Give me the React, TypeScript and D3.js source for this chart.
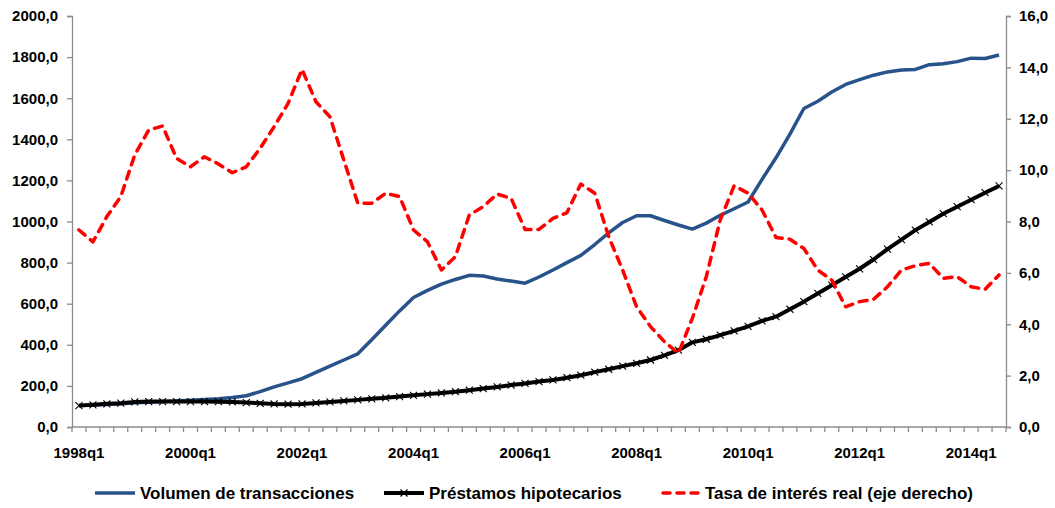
import React, { useRef, useEffect } from 'react';
import * as d3 from 'd3';

// quarters 1998q1 .. 2014q3
const quarters: string[] = [];
for (let yr = 1998; yr <= 2014; yr++) {
  for (let q = 1; q <= 4; q++) quarters.push(yr + 'q' + q);
}
const categories = quarters.slice(0, 67);

const volumen = [
  105, 107, 110, 113, 118, 121, 124, 127, 130, 134, 138, 144, 152, 172, 195, 215,
  235, 266, 296, 326, 356, 425, 495, 565, 630, 665, 695, 718, 738, 735, 720, 710,
  700, 730, 764, 800, 835, 888, 945, 995, 1028, 1028, 1005, 983, 963, 992, 1030, 1062,
  1095, 1205, 1310, 1425, 1550, 1585, 1630, 1667, 1690, 1712, 1728, 1737, 1740, 1763, 1768, 1778,
  1795, 1793, 1810
];

const prestamos = [
  104, 108, 113, 116, 122, 124, 124, 124, 124, 124, 123, 122, 119, 115, 112, 111,
  112, 117, 122, 127, 132, 137, 142, 148, 154, 160, 166, 172, 179, 187, 195, 204,
  212, 221, 229, 240, 252, 267, 281, 296, 310, 326, 349, 374, 412, 427, 447, 468,
  490, 516, 537, 573, 610, 650, 690, 730, 770, 815, 866, 912, 958, 998, 1038, 1072,
  1106, 1140, 1173
];

const tasa = [
  7.67, 7.21, 8.19, 8.97, 10.59, 11.56, 11.72, 10.46, 10.13, 10.52, 10.24, 9.9, 10.13, 10.85, 11.69, 12.6,
  13.92, 12.66, 12.08, 10.39, 8.71, 8.71, 9.1, 8.97, 7.67, 7.21, 6.11, 6.63, 8.25, 8.58, 9.07, 8.9,
  7.69, 7.69, 8.12, 8.34, 9.46, 9.1, 7.41, 6.11, 4.68, 3.91, 3.32, 2.87, 4.23, 5.85, 8.06, 9.39,
  9.1, 8.45, 7.38, 7.31, 6.95, 6.11, 5.72, 4.68, 4.88, 4.97, 5.46, 6.11, 6.28, 6.37, 5.79, 5.85,
  5.46, 5.36, 5.92
];

const leftTicks = [0, 200, 400, 600, 800, 1000, 1200, 1400, 1600, 1800, 2000];
const rightTicks = [0, 2, 4, 6, 8, 10, 12, 14, 16];

const seriesNames = ['Volumen de transacciones', 'Préstamos hipotecarios', 'Tasa de interés real (eje derecho)'];

const BLUE = '#27528A';
const RED = '#FF0000';
const AXIS = '#8C8C8C';
const FONT = "'Liberation Sans', Arial, sans-serif";

function App() {
  const ref = useRef<SVGSVGElement>(null);

  useEffect(() => {
    const width = 1055;
    const height = 508;
    const left = 72, right = 1006, top = 16, bottom = 427;

    const svg = d3.select(ref.current);
    svg.selectAll('*').remove();
    svg.attr('width', width).attr('height', height);

    const x = d3.scaleBand<string>().domain(categories).range([left, right]).padding(0);
    const cx = (i: number) => (x(categories[i]) as number) + x.bandwidth() / 2;
    const yL = d3.scaleLinear().domain([0, 2000]).range([bottom, top]);
    const yR = d3.scaleLinear().domain([0, 16]).range([bottom, top]);

    const fmt = (v: number) => d3.format('.1f')(v).replace('.', ',');

    // left axis
    const gl = svg.append('g').attr('transform', `translate(${left},0)`)
      .call(d3.axisLeft(yL).tickValues(leftTicks).tickFormat(fmt as any).tickSize(5).tickPadding(9));
    // right axis
    const gr = svg.append('g').attr('transform', `translate(${right},0)`)
      .call(d3.axisRight(yR).tickValues(rightTicks).tickFormat(fmt as any).tickSize(5).tickPadding(8));
    [gl, gr].forEach(g => {
      g.select('.domain').attr('stroke', AXIS).attr('stroke-width', 1.3);
      g.selectAll('.tick line').attr('stroke', AXIS).attr('stroke-width', 1.3);
      g.selectAll('.tick text').attr('fill', '#000').style('font-family', FONT)
        .style('font-weight', 'bold').style('font-size', '15px');
    });

    // bottom axis: tick marks on category boundaries
    const gb = svg.append('g');
    gb.append('line').attr('x1', left).attr('x2', right).attr('y1', bottom).attr('y2', bottom)
      .attr('stroke', AXIS).attr('stroke-width', 1.3);
    const bounds = categories.map(c => x(c) as number).concat([right]);
    gb.selectAll('line.tk').data(bounds).enter().append('line').attr('class', 'tk')
      .attr('x1', d => d).attr('x2', d => d).attr('y1', bottom).attr('y2', bottom + 5)
      .attr('stroke', AXIS).attr('stroke-width', 1.3);
    gb.selectAll('text').data(categories.filter((c, i) => i % 8 === 0)).enter().append('text')
      .attr('x', d => (x(d) as number) + x.bandwidth() / 2)
      .attr('y', 458)
      .attr('text-anchor', 'middle')
      .style('font-family', FONT).style('font-weight', 'bold').style('font-size', '15px')
      .text(d => d);

    const lineL = d3.line<number>().x((d, i) => cx(i)).y(d => yL(d));
    const lineR = d3.line<number>().x((d, i) => cx(i)).y(d => yR(d));

    // volumen
    svg.append('path').datum(volumen).attr('d', lineL).attr('fill', 'none')
      .attr('stroke', BLUE).attr('stroke-width', 3.5).attr('stroke-linejoin', 'round');

    // prestamos
    svg.append('path').datum(prestamos).attr('d', lineL).attr('fill', 'none')
      .attr('stroke', '#000').attr('stroke-width', 4).attr('stroke-linejoin', 'round');
    const m = 3.5;
    svg.append('g').selectAll('path').data(prestamos).enter().append('path')
      .attr('d', (d, i) => {
        const px = cx(i), py = yL(d);
        return `M${px - m},${py - m}L${px + m},${py + m}M${px - m},${py + m}L${px + m},${py - m}`;
      })
      .attr('stroke', '#000').attr('stroke-width', 1.1).attr('fill', 'none');

    // tasa
    svg.append('path').datum(tasa).attr('d', lineR).attr('fill', 'none')
      .attr('stroke', RED).attr('stroke-width', 3.5).attr('stroke-dasharray', '8,7')
      .attr('stroke-linecap', 'round').attr('stroke-linejoin', 'round');

    // legend
    const ly = 493;
    const lg = svg.append('g');
    const items = [
      { x: 95, color: BLUE, dash: null, marker: false, w: 3.5 },
      { x: 384, color: '#000', dash: null, marker: true, w: 4 },
      { x: 660, color: RED, dash: '7,7', marker: false, w: 3.5 },
    ];
    items.forEach((it, k) => {
      const l = lg.append('line').attr('x1', it.x).attr('x2', it.x + 40).attr('y1', ly).attr('y2', ly)
        .attr('stroke', it.color).attr('stroke-width', it.w);
      if (it.dash) l.attr('stroke-dasharray', it.dash).attr('stroke-linecap', 'round').attr('x1', it.x + 3);
      if (it.marker) {
        const px = it.x + 20;
        lg.append('path')
          .attr('d', `M${px - m},${ly - m}L${px + m},${ly + m}M${px - m},${ly + m}L${px + m},${ly - m}`)
          .attr('stroke', '#000').attr('stroke-width', 1.1);
      }
      lg.append('text').attr('x', it.x + 45).attr('y', ly + 6)
        .style('font-family', FONT).style('font-weight', 'bold').style('font-size', '17px')
        .text(seriesNames[k]);
    });
  }, []);

  return (
    <svg ref={ref} style={{ position: 'absolute', left: 0, top: 0, display: 'block', background: '#fff' }} />
  );
}

export default App;
